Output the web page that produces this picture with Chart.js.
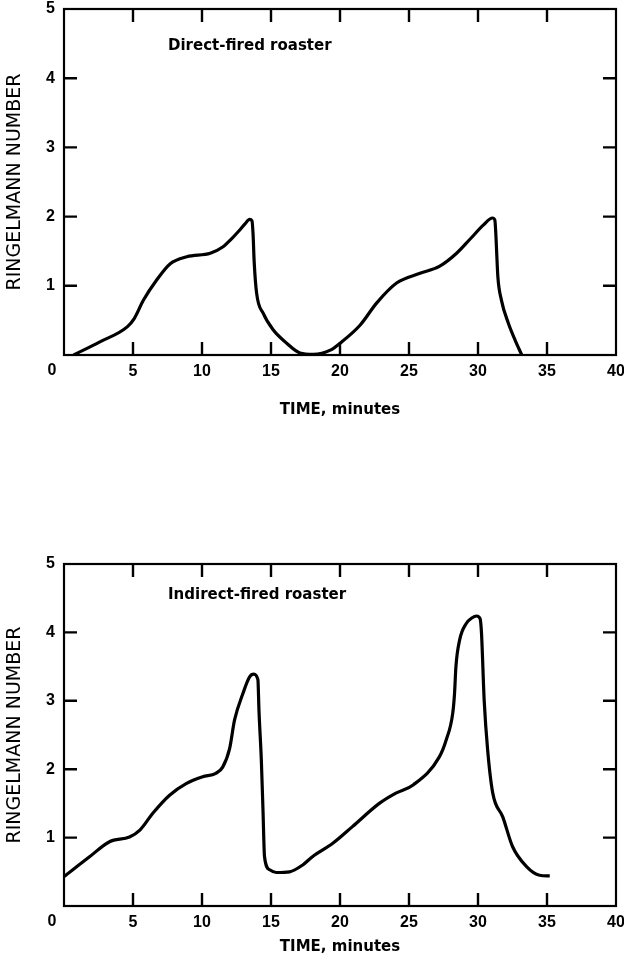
<!DOCTYPE html>
<html>
<head>
<meta charset="utf-8">
<script src="https://cdn.jsdelivr.net/npm/chart.js@4.4.1/dist/chart.umd.min.js"></script>
<style>
  html, body { margin: 0; padding: 0; background: #fff; }
  body { width: 624px; height: 962px; position: relative; overflow: hidden; }
  .box { position: absolute; left: 0; width: 624px; }
  #b1 { top: 0; height: 440px; }
  #b2 { top: 540px; height: 422px; }
</style>
</head>
<body>
<div class="box" id="b1"><canvas id="c1"></canvas></div>
<div class="box" id="b2"><canvas id="c2"></canvas></div>
<script>
// ---- data ----
const xTicks = [0, 5, 10, 15, 20, 25, 30, 35, 40];
const yTicks = [0, 1, 2, 3, 4, 5];

const directTime = [0.7, 2.6, 4.6, 5.1, 5.75, 6.7, 7.7, 8.9, 10.6, 11.5, 12.1, 12.75, 13.1, 13.45, 13.62, 13.7, 13.78, 13.96, 14.44, 15.17, 16.14, 17.1, 18.07, 19.3, 20.0, 21.45, 22.65, 24.1, 25.8, 27.2, 28.45, 29.45, 30.4, 31.05, 31.22, 31.3, 31.36, 31.44, 31.7, 32.2, 32.68, 33.17];
const directRing = [0.0, 0.19, 0.41, 0.53, 0.79, 1.08, 1.32, 1.42, 1.47, 1.56, 1.67, 1.81, 1.89, 1.96, 1.94, 1.75, 1.35, 0.89, 0.6, 0.36, 0.17, 0.03, 0.01, 0.07, 0.17, 0.43, 0.75, 1.04, 1.18, 1.28, 1.47, 1.68, 1.88, 1.98, 1.95, 1.72, 1.45, 1.13, 0.79, 0.46, 0.22, 0.0];

const indirectTime = [0.0, 1.85, 3.3, 4.75, 5.5, 6.45, 7.65, 8.85, 10.05, 11.0, 11.5, 12.0, 12.36, 12.97, 13.45, 13.75, 14.05, 14.13, 14.3, 14.42, 14.53, 14.9, 15.38, 16.35, 17.3, 18.0, 19.5, 20.9, 22.85, 24.05, 25.3, 27.2, 27.7, 28.17, 28.3, 28.4, 28.67, 29.15, 29.55, 29.9, 30.15, 30.25, 30.45, 30.7, 31.07, 31.8, 32.5, 33.5, 34.46, 35.2];
const indirectRing = [0.43, 0.72, 0.94, 1.01, 1.11, 1.36, 1.62, 1.79, 1.89, 1.94, 2.03, 2.3, 2.72, 3.11, 3.35, 3.39, 3.31, 2.85, 2.13, 1.4, 0.72, 0.53, 0.49, 0.5, 0.6, 0.72, 0.92, 1.16, 1.5, 1.65, 1.77, 2.18, 2.43, 2.82, 3.11, 3.5, 3.89, 4.13, 4.21, 4.24, 4.2, 4.0, 3.0, 2.28, 1.65, 1.3, 0.87, 0.58, 0.45, 0.44];

const xTitle = 'TIME, minutes';
const yTitle = 'RINGELMANN NUMBER';
const labelTop = 'Direct-fired roaster';
const labelBottom = 'Indirect-fired roaster';

// ---- frame plugin: border, inward ticks, corner zero, annotation ----
const framePlugin = {
  id: 'frame',
  afterDraw(chart, args, opts) {
    const {ctx, chartArea: a, scales: {x, y}} = chart;
    ctx.save();
    ctx.strokeStyle = '#000';
    ctx.lineWidth = 2.2;
    ctx.strokeRect(a.left, a.top, a.right - a.left, a.bottom - a.top);
    const L = 13;
    ctx.lineWidth = 2.4;
    ctx.beginPath();
    xTicks.forEach(v => {
      if (v === xTicks[0] || v === xTicks[xTicks.length - 1]) return;
      const px = x.getPixelForValue(v);
      ctx.moveTo(px, a.top); ctx.lineTo(px, a.top + L);
      ctx.moveTo(px, a.bottom); ctx.lineTo(px, a.bottom - L);
    });
    yTicks.forEach(v => {
      if (v === yTicks[0] || v === yTicks[yTicks.length - 1]) return;
      const py = y.getPixelForValue(v);
      ctx.moveTo(a.left, py); ctx.lineTo(a.left + L, py);
      ctx.moveTo(a.right, py); ctx.lineTo(a.right - L, py);
    });
    ctx.stroke();
    ctx.fillStyle = '#000';
    ctx.font = 'bold 16px "Liberation Sans", Arial, sans-serif';
    ctx.textAlign = 'center';
    ctx.textBaseline = 'middle';
    ctx.fillText('0', x.getPixelForValue(0) - 12, a.bottom + 16);
    ctx.font = 'bold 15px "DejaVu Sans", sans-serif';
    ctx.textAlign = 'left';
    ctx.fillText(opts.text, a.left + 104, a.top + opts.dy);
    ctx.restore();
  }
};

function makeChart(id, xs, ys, padTop, xAxisH, xTitlePad, text, dy) {
  return new Chart(document.getElementById(id), {
    type: 'line',
    data: {
      datasets: [{
        data: xs.map((t, i) => ({x: t, y: ys[i]})),
        borderColor: '#000',
        borderWidth: 3.2,
        pointRadius: 0,
        cubicInterpolationMode: 'monotone',
        fill: false
      }]
    },
    options: {
      responsive: true,
      maintainAspectRatio: false,
      animation: false,
      events: [],
      layout: { padding: { top: padTop, right: 8, left: 0, bottom: 0 } },
      plugins: { legend: { display: false }, tooltip: { enabled: false }, frame: { text: text, dy: dy } },
      scales: {
        x: {
          type: 'linear', min: 0, max: 40,
          afterBuildTicks: s => { s.ticks = xTicks.map(v => ({value: v})); },
          afterFit: s => { s.height = xAxisH; s.paddingLeft = 0; s.paddingRight = 0; },
          grid: { display: false, drawTicks: false },
          border: { display: false },
          ticks: {
            padding: 7, color: '#000', maxRotation: 0, autoSkip: false,
            font: { family: '"Liberation Sans", Arial, sans-serif', size: 16, weight: 'bold' },
            callback: v => v === 0 ? '' : String(v)
          },
          title: {
            display: true, text: xTitle, color: '#000',
            font: { family: '"DejaVu Sans", sans-serif', size: 15, weight: 'bold' },
            padding: { top: 0, bottom: xTitlePad }
          }
        },
        y: {
          type: 'linear', min: 0, max: 5,
          afterBuildTicks: s => { s.ticks = yTicks.map(v => ({value: v})); },
          afterFit: s => { s.width = 64; s.paddingTop = 0; s.paddingBottom = 0; },
          grid: { display: false, drawTicks: false },
          border: { display: false },
          ticks: {
            padding: 9, color: '#000',
            font: { family: '"Liberation Sans", Arial, sans-serif', size: 16, weight: 'bold' },
            callback: v => v === 0 ? '' : String(v)
          },
          title: {
            display: true, text: yTitle, color: '#000',
            font: { family: '"DejaVu Sans", sans-serif', size: 19, weight: 'normal' },
            padding: { top: 4, bottom: 0 }
          }
        }
      }
    },
    plugins: [framePlugin]
  });
}

makeChart('c1', directTime, directRing, 9, 85, 21, labelTop, 37);
makeChart('c2', indirectTime, indirectRing, 24, 56, 6, labelBottom, 31);
</script>
</body>
</html>
